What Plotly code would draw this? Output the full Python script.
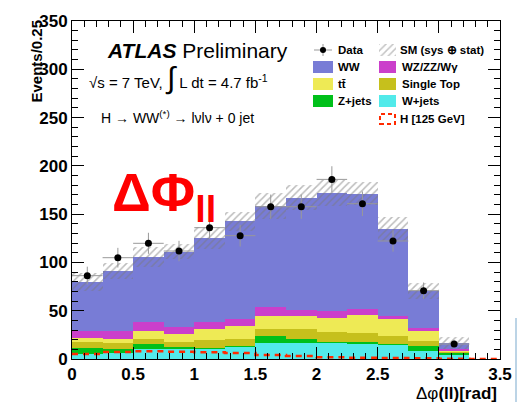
import plotly.graph_objects as go
import numpy as np

# ---------------- data ----------------
bin_edges = [0.0, 0.25, 0.5, 0.75, 1.0, 1.25, 1.5, 1.75, 2.0, 2.25, 2.5, 2.75, 3.0, 3.25, 3.5]
w_jets   = [5.2, 5.9, 10.0, 11.0, 10.4, 12.8, 16.2, 16.9, 16.9, 16.2, 14.5, 8.6, 4.1, 0.0]
z_jets   = [5.8, 4.5, 5.5, 1.8, 0.6, 0.5, 7.6, 3.5, 1.0, 1.1, 1.0, 5.2, 2.4, 0.0]
single_t = [6.3, 5.8, 5.2, 4.5, 8.7, 7.4, 7.3, 10.3, 10.1, 9.3, 8.3, 4.8, 1.1, 0.0]
ttbar    = [4.8, 4.5, 8.3, 8.6, 11.4, 13.8, 13.4, 13.8, 14.8, 19.3, 17.3, 10.7, 1.7, 0.0]
wz_zz_wg = [6.9, 8.3, 9.0, 6.9, 6.9, 6.9, 9.0, 6.2, 6.6, 5.5, 3.4, 3.1, 1.4, 0.0]
ww       = [51.1, 62.1, 67.6, 78.3, 87.3, 101.2, 104.9, 116.4, 122.5, 119.8, 90.1, 38.0, 5.5, 0.0]
sm_unc   = [9.3, 8.0, 10.0, 8.0, 11.7, 10.0, 13.8, 12.7, 13.8, 11.7, 12.8, 8.0, 6.2, 0.0]
data     = [86.3, 104.9, 119.8, 111.8, 136.0, 127.7, 157.7, 157.7, 186.0, 160.8, 122.2, 70.8, 15.5, None]
data_err = [9.3, 10.2, 10.9, 10.6, 11.7, 11.3, 12.6, 12.6, 13.6, 12.7, 11.1, 8.4, 3.9, None]
higgs    = [5.2, 7.2, 7.9, 7.6, 6.9, 6.2, 4.1, 3.1, 1.7, 1.4, 1.0, 0.7, 0.3, 0.0]

x_ticks = [0, 0.5, 1, 1.5, 2, 2.5, 3, 3.5]
y_ticks = [0, 50, 100, 150, 200, 250, 300, 350]

# ---------------- geometry helpers ----------------
X0, X1, YB, YT = 72, 500, 359, 21
def px(x):
    return (x - X0) / (X1 - X0)
def py(y):
    return (YB - y) / (YB - YT)

edges = np.array(bin_edges)
centers = (edges[:-1] + edges[1:]) / 2
width = edges[1] - edges[0]

FONT = "Liberation Sans"
fig = go.Figure()

components = [
    ("W+jets", w_jets, "#52eaea"),
    ("Z+jets", z_jets, "#00c01a"),
    ("Single Top", single_t, "#c6c01c"),
    ("ttbar", ttbar, "#eeea55"),
    ("WZ/ZZ/Wg", wz_zz_wg, "#cb3fcb"),
    ("WW", ww, "#787cd6"),
]
base = np.zeros(len(centers))
for name, vals, col in components:
    v = np.array(vals, dtype=float)
    fig.add_bar(x=centers, y=v, base=base.copy(), width=width, name=name,
                marker=dict(color=col, line=dict(width=0)), showlegend=False)
    base = base + v
total = base
unc = np.array(sm_unc)

# hatched uncertainty band
fig.add_bar(x=centers, y=2 * unc, base=total - unc, width=width, showlegend=False,
            marker=dict(color="rgba(0,0,0,0)", line=dict(width=0),
                        pattern=dict(shape="/", fgcolor="#7a7a7a", bgcolor="rgba(0,0,0,0)",
                                     size=5, solidity=0.3)))

# Higgs signal, dashed step
hx = list(edges[:-1]) + [edges[-1]]
hy = list(higgs) + [higgs[-1]]
fig.add_scatter(x=hx, y=hy, mode="lines", line=dict(color="#ff2a00", width=2.5, dash="6px,5px", shape="hv"),
                showlegend=False)

# data
fig.add_scatter(x=centers, y=data, mode="markers", showlegend=False,
                marker=dict(color="black", size=7),
                error_y=dict(type="data", array=data_err, color="#999999", thickness=1, width=0),
                error_x=dict(type="constant", value=width / 2, color="#999999", thickness=1, width=0))

# legend hatch swatch on its own tiny axes
fig.add_bar(x=[0], y=[1], width=1, xaxis="x2", yaxis="y2", showlegend=False,
            marker=dict(color="rgba(0,0,0,0)", line=dict(width=0),
                        pattern=dict(shape="/", fgcolor="#8a8a8a", bgcolor="rgba(0,0,0,0)",
                                     size=5, solidity=0.3)))

shapes = []
annotations = []

# legend
lfont = dict(family=FONT, size=11.5, color="black", weight="bold")
rows = [50, 67, 84, 101, 119]
c1_box = (313, 333)
c2_box = (379, 396)
c1_txt = 336
c2_txt = 400

def box(xr, yc, col):
    shapes.append(dict(type="rect", xref="paper", yref="paper",
                       x0=px(xr[0]), x1=px(xr[1]), y0=py(yc + 6), y1=py(yc - 6),
                       fillcolor=col, line=dict(width=0)))

def label(x, yc, text):
    annotations.append(dict(text=text, x=px(x), y=py(yc), xref="paper", yref="paper",
                            xanchor="left", yanchor="middle", showarrow=False, font=lfont))

# Data marker
shapes.append(dict(type="line", xref="paper", yref="paper", x0=px(314), x1=px(332), y0=py(50), y1=py(50),
                   line=dict(color="#999999", width=1)))
shapes.append(dict(type="line", xref="paper", yref="paper", x0=px(323), x1=px(323), y0=py(44), y1=py(56),
                   line=dict(color="#999999", width=1)))
shapes.append(dict(type="circle", xref="paper", yref="paper", x0=px(320), x1=px(326), y0=py(53), y1=py(47),
                   fillcolor="black", line=dict(width=0)))
label(c1_txt, rows[0], "Data")
label(c2_txt - 2, rows[0], "SM (sys ⊕ stat)")
box(c1_box, rows[1], "#787cd6"); label(c1_txt, rows[1], "WW")
box(c2_box, rows[1], "#cb3fcb"); label(c2_txt, rows[1], "WZ/ZZ/Wγ")
box(c1_box, rows[2], "#eeea55"); label(c1_txt, rows[2], "tt\u0304")
box(c2_box, rows[2], "#c6c01c"); label(c2_txt, rows[2], "Single Top")
box(c1_box, rows[3], "#00c01a"); label(c1_txt, rows[3], "Z+jets")
box(c2_box, rows[3], "#52eaea"); label(c2_txt, rows[3], "W+jets")
shapes.append(dict(type="rect", xref="paper", yref="paper",
                   x0=px(c2_box[0] + 1), x1=px(c2_box[1] - 1), y0=py(rows[4] + 5), y1=py(rows[4] - 5),
                   fillcolor="rgba(0,0,0,0)", line=dict(color="#ff2a00", width=2, dash="4px,3px")))
label(c2_txt - 2, rows[4], "H [125 GeV]")

# ATLAS texts
annotations.append(dict(text="<b><i>ATLAS</i></b> Preliminary", x=px(105), y=py(50), xref="paper", yref="paper",
                        xanchor="left", yanchor="middle", showarrow=False,
                        font=dict(family=FONT, size=21, color="black")))
annotations.append(dict(text="√s = 7 TeV, <span style='font-size:30px'>∫</span> L dt = 4.7 fb<sup>-1</sup>",
                        x=px(87), y=py(78), xref="paper", yref="paper",
                        xanchor="left", yanchor="middle", showarrow=False,
                        font=dict(family=FONT, size=15, color="black")))
annotations.append(dict(text="H → WW<sup>(*)</sup> → lνlν + 0 jet",
                        x=px(99), y=py(117), xref="paper", yref="paper",
                        xanchor="left", yanchor="middle", showarrow=False,
                        font=dict(family=FONT, size=14, color="black")))
annotations.append(dict(text="<b>ΔΦ<sub>ll</sub></b>",
                        x=px(110), y=py(196), xref="paper", yref="paper",
                        xanchor="left", yanchor="middle", showarrow=False,
                        font=dict(family=FONT, size=54, color="#ff0000")))

# axis titles
annotations.append(dict(text="<b>Events/0.25</b>", x=px(36), y=py(18), xref="paper", yref="paper",
                        xanchor="center", yanchor="top", textangle=-90, showarrow=False,
                        font=dict(family=FONT, size=15, color="black")))
annotations.append(dict(text="Δφ<b>(ll)[rad]</b>", x=px(499), y=py(393), xref="paper", yref="paper",
                        xanchor="right", yanchor="middle", showarrow=False,
                        font=dict(family=FONT, size=17, color="black")))

# screenshot side element
shapes.append(dict(type="line", xref="paper", yref="paper", x0=px(516), x1=px(516), y0=py(318), y1=py(402),
                   line=dict(color="#bcd4e6", width=2)))

tickfont = dict(family=FONT, size=17, color="black", weight="bold")
fig.update_layout(
    width=520, height=412,
    margin=dict(l=X0, r=520 - X1, t=YT, b=412 - YB, autoexpand=False),
    paper_bgcolor="white", plot_bgcolor="white",
    barmode="overlay", bargap=0,
    showlegend=False,
    shapes=shapes, annotations=annotations,
    xaxis=dict(range=[0, 3.5], tickvals=x_ticks, ticktext=[f"{t:g}" for t in x_ticks],
               ticks="inside", ticklen=12, tickcolor="black", tickwidth=1,
               showline=True, linecolor="black", linewidth=1, mirror="ticks",
               showgrid=False, zeroline=False, tickfont=tickfont,
               minor=dict(dtick=0.1, ticks="inside", ticklen=6, tickcolor="black", showgrid=False)),
    yaxis=dict(range=[0, 350], tickvals=y_ticks, ticktext=[str(t) for t in y_ticks],
               ticks="inside", ticklen=12, tickcolor="black", tickwidth=1,
               showline=True, linecolor="black", linewidth=1, mirror="ticks",
               showgrid=False, zeroline=False, tickfont=tickfont,
               minor=dict(dtick=10, ticks="inside", ticklen=6, tickcolor="black", showgrid=False)),
    xaxis2=dict(domain=[px(379), px(396)], range=[-0.5, 0.5], anchor="y2", visible=False, fixedrange=True),
    yaxis2=dict(domain=[py(56), py(44)], range=[0, 1], anchor="x2", visible=False, fixedrange=True),
)

fig.write_html("out.html")
